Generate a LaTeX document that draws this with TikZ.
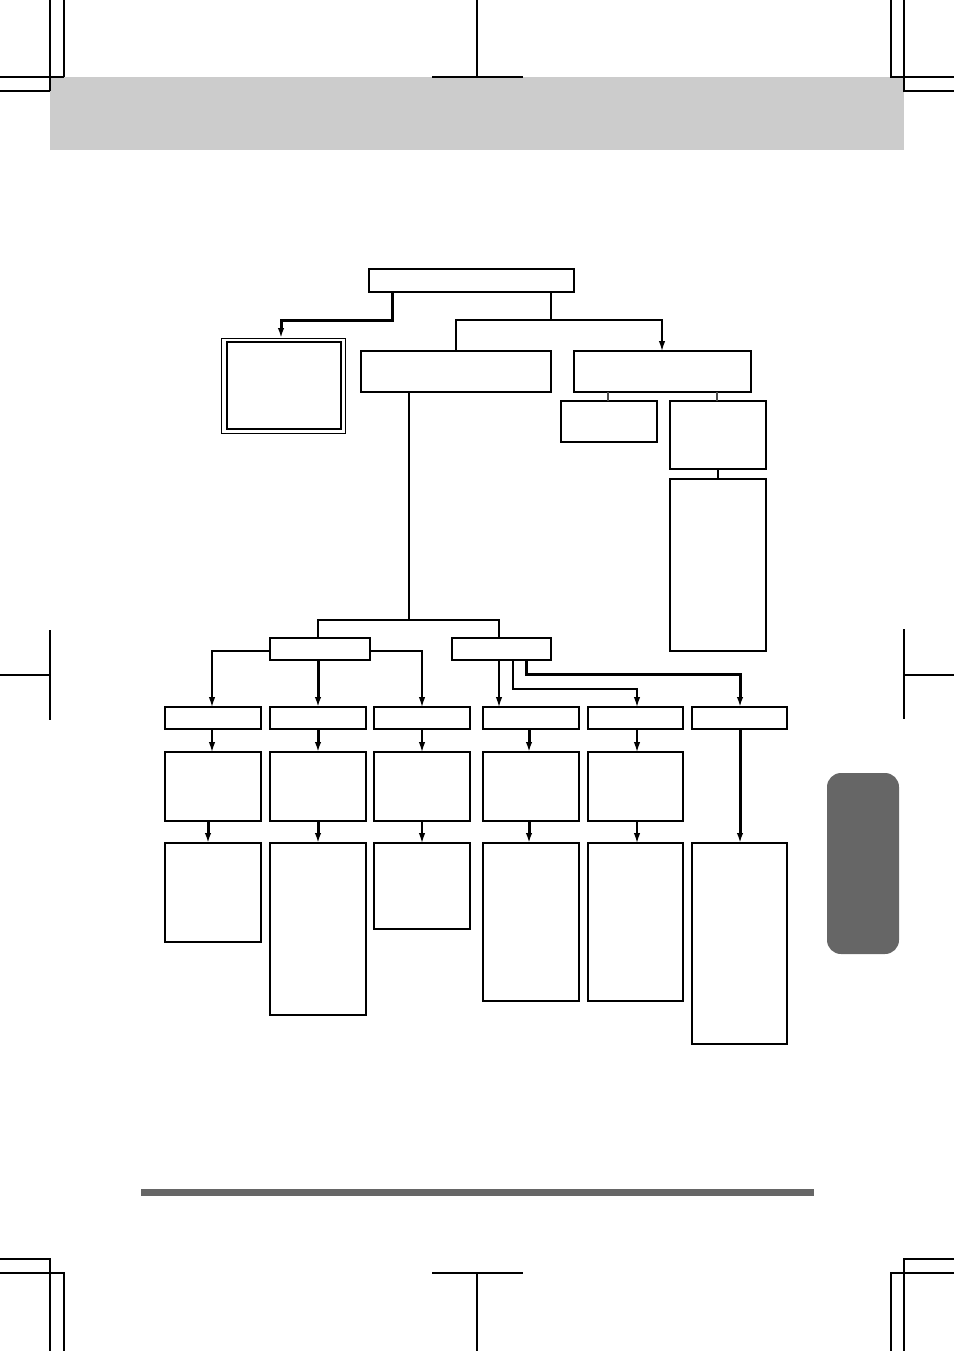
\documentclass[tikz,border=0pt]{standalone}
\usetikzlibrary{arrows.meta,fit}
\definecolor{bandgray}{HTML}{CCCCCC}
\definecolor{darkgray}{HTML}{666666}
\tikzset{
  x=1pt, y=-1pt,
  boxst/.style={draw, line width=2.2pt, inner sep=0pt, outer sep=0pt},
  thinbox/.style={draw, line width=1pt, inner sep=0pt, outer sep=0pt},
  thn/.style={line width=1.4pt},
  thk/.style={line width=3pt},
  greyc/.style={line width=1.8pt, draw=black!70},
  arr/.style={-{Latex[length=10pt,width=6.5pt]}},
  crop/.style={line width=1.1pt}
}
\begin{document}
\begin{tikzpicture}
\useasboundingbox (0,0) rectangle (954,1351);
% page furniture
\fill[bandgray] (50,77) rectangle (904,150);
\fill[darkgray] (141,1189) rectangle (814,1196);
\fill[darkgray, rounded corners=14pt] (827,773) rectangle (899,954);
% crop marks
\draw[crop] (0,77) -- (64,77) (64,0) -- (64,77) (0,91) -- (50,91) (50,0) -- (50,91);
\draw[crop] (477,0) -- (477,77) (432,77) -- (523,77);
\draw[crop] (891,0) -- (891,77) -- (954,77) (904,0) -- (904,91) -- (954,91);
\draw[crop] (0,1259) -- (50,1259) -- (50,1351) (0,1273) -- (64,1273) -- (64,1351);
\draw[crop] (432,1273) -- (523,1273) (477,1273) -- (477,1351);
\draw[crop] (954,1259) -- (904,1259) -- (904,1351) (954,1273) -- (891,1273) -- (891,1351);
\draw[crop] (50,630) -- (50,720) (0,675) -- (50,675);
\draw[crop] (904,629) -- (904,719) (904,675) -- (954,675);
% boxes
\node[boxst, fit={(369,269) (574,292)}] (top) {};
\node[thinbox, fit={(221,338) (345,433)}] (dblo) {};
\node[boxst, line width=2.5pt, fit={(227,342) (341,429)}] (dbli) {};
\node[boxst, fit={(361,351) (551,392)}] (A) {};
\node[boxst, fit={(574,351) (751,392)}] (B) {};
\node[boxst, fit={(561,401) (657,442)}] (B1) {};
\node[boxst, fit={(670,401) (766,469)}] (B2) {};
\node[boxst, fit={(670,479) (766,651)}] (B3) {};
\node[boxst, fit={(270,638) (370,660)}] (C1) {};
\node[boxst, fit={(452,638) (551,660)}] (C2) {};
\node[boxst, fit={(165,707) (261,729)}] (D1) {};
\node[boxst, fit={(270,707) (366,729)}] (D2) {};
\node[boxst, fit={(374,707) (470,729)}] (D3) {};
\node[boxst, fit={(483,707) (579,729)}] (D4) {};
\node[boxst, fit={(588,707) (683,729)}] (D5) {};
\node[boxst, fit={(692,707) (787,729)}] (D6) {};
\node[boxst, fit={(165,752) (261,821)}] (E1) {};
\node[boxst, fit={(270,752) (366,821)}] (E2) {};
\node[boxst, fit={(374,752) (470,821)}] (E3) {};
\node[boxst, fit={(483,752) (579,821)}] (E4) {};
\node[boxst, fit={(588,752) (683,821)}] (E5) {};
\node[boxst, fit={(165,843) (261,942)}] (F1) {};
\node[boxst, fit={(270,843) (366,1015)}] (F2) {};
\node[boxst, fit={(374,843) (470,929)}] (F3) {};
\node[boxst, fit={(483,843) (579,1001)}] (F4) {};
\node[boxst, fit={(588,843) (683,1001)}] (F5) {};
\node[boxst, fit={(692,843) (787,1044)}] (F6) {};
% connectors: top level
\draw[thk,arr] (top.south -| 392,0) |- (281,320) -- (dblo.north -| 281,0);
\draw[thn] (top.south -| 551,0) |- (456,320) -- (A.north -| 456,0);
\draw[thn,arr] (551,320) -| (B.north -| 662,0);
\draw[greyc] (B.south -| 608,0) -- (B1.north -| 608,0);
\draw[greyc] (B.south -| 717,0) -- (B2.north -| 717,0);
\draw[thn] (B2.south) -- (B3.north);
% A branch
\draw[thn] (A.south -| 409,0) -- (409,620);
\draw[thn] (C1.north -| 318,0) |- (499,620) -- (C2.north -| 499,0);
% C1 outputs
\draw[thn,arr] (C1.west |- 0,651) -| (D1.north -| 212,0);
\draw[thk,arr] (C1.south -| 318,0) -- (D2.north -| 318,0);
\draw[thn,arr] (C1.east |- 0,651) -| (D3.north -| 422,0);
% C2 outputs
\draw[thn,arr] (C2.south -| 499,0) -- (D4.north -| 499,0);
\draw[thn,arr] (C2.south -| 513,0) |- (637,689) -- (D5.north -| 637,0);
\draw[thk,arr] (C2.south -| 526,0) |- (740,674) -- (D6.north -| 740,0);
% D -> E
\draw[thn,arr] (D1.south -| 212,0) -- (E1.north -| 212,0);
\draw[thk,arr] (D2.south -| 318,0) -- (E2.north -| 318,0);
\draw[thn,arr] (D3.south -| 422,0) -- (E3.north -| 422,0);
\draw[thk,arr] (D4.south -| 529,0) -- (E4.north -| 529,0);
\draw[thn,arr] (D5.south -| 637,0) -- (E5.north -| 637,0);
% E -> F
\draw[thk,arr] (E1.south -| 208,0) -- (F1.north -| 208,0);
\draw[thk,arr] (E2.south -| 318,0) -- (F2.north -| 318,0);
\draw[thn,arr] (E3.south -| 422,0) -- (F3.north -| 422,0);
\draw[thk,arr] (E4.south -| 529,0) -- (F4.north -| 529,0);
\draw[thn,arr] (E5.south -| 637,0) -- (F5.north -| 637,0);
\draw[thk,arr] (D6.south -| 740,0) -- (F6.north -| 740,0);
\end{tikzpicture}
\end{document}
